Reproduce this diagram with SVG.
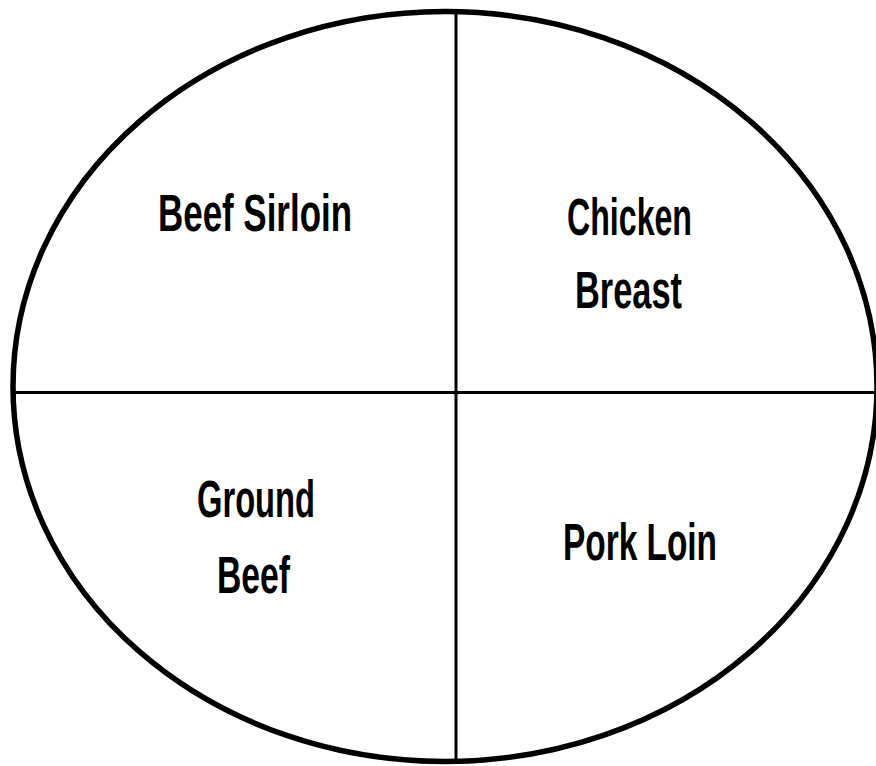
<svg xmlns="http://www.w3.org/2000/svg" width="876" height="766" viewBox="0 0 876 766">
<style>
.lbl{font-family:"Liberation Sans",Arial,sans-serif;font-size:51px;font-weight:bold;fill:#000;}
.rule{stroke:#000;stroke-width:3;fill:none;}
</style>
<rect width="876" height="766" fill="#fff"/>
<g id="plate">
<ellipse cx="445" cy="386.5" rx="432" ry="375" fill="#fff" stroke="#000" stroke-width="5.5"/>
</g>
<g id="connectors">
<line class="rule" x1="456" y1="12" x2="456" y2="761"/>
<line class="rule" x1="15" y1="392.5" x2="876" y2="392.5"/>
</g>
<g id="beef-sirloin">
<text class="lbl" x="158" y="231" textLength="194" lengthAdjust="spacingAndGlyphs">Beef Sirloin</text>
</g>
<g id="chicken-breast">
<text class="lbl" x="567" y="235" textLength="125" lengthAdjust="spacingAndGlyphs">Chicken</text>
<text class="lbl" x="575" y="308" textLength="107" lengthAdjust="spacingAndGlyphs">Breast</text>
</g>
<g id="ground-beef">
<text class="lbl" x="197" y="517" textLength="118" lengthAdjust="spacingAndGlyphs">Ground</text>
<text class="lbl" x="217" y="593" textLength="73" lengthAdjust="spacingAndGlyphs">Beef</text>
</g>
<g id="pork-loin">
<text class="lbl" x="563" y="560" textLength="154" lengthAdjust="spacingAndGlyphs">Pork Loin</text>
</g>
</svg>
